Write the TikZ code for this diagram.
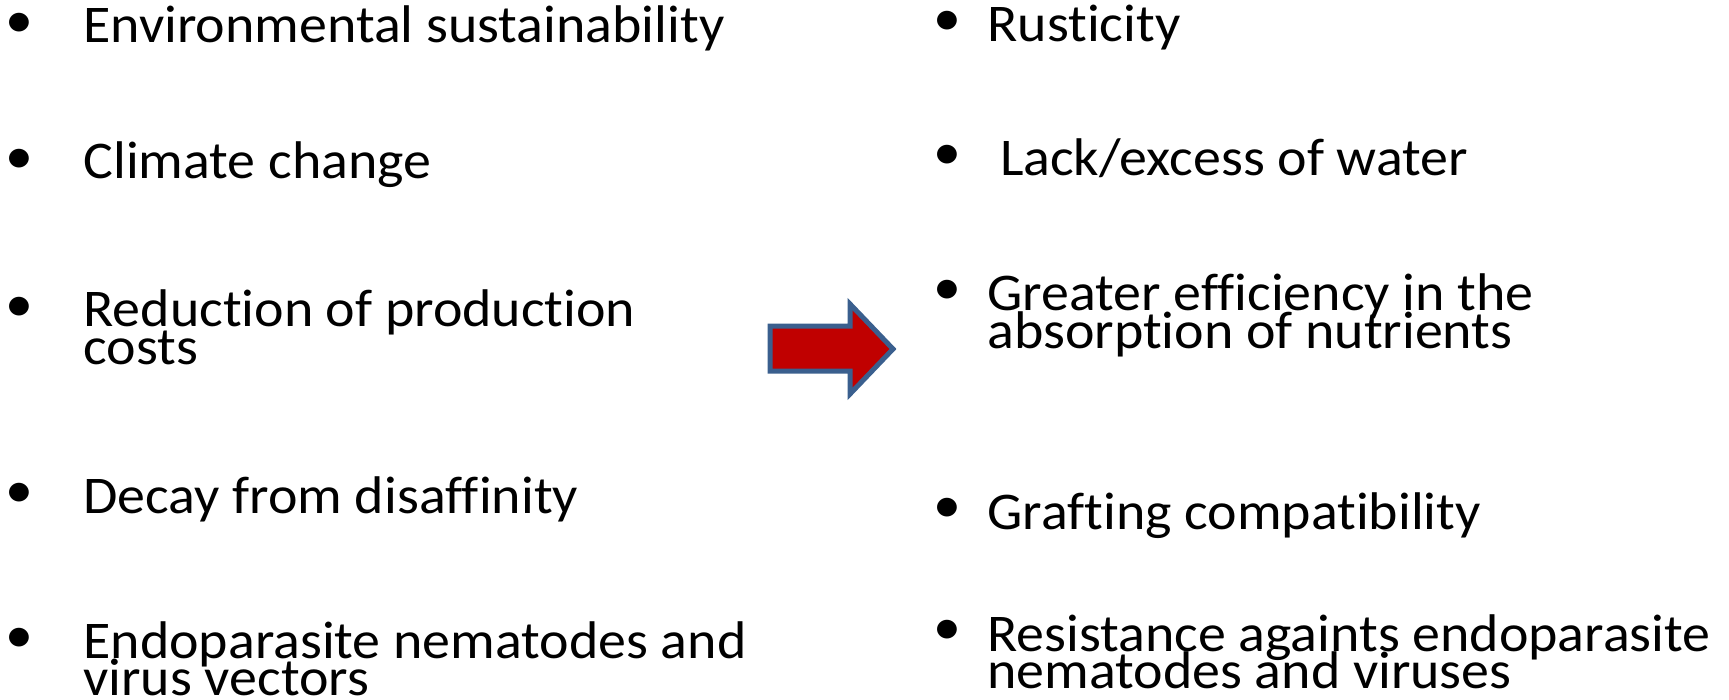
\documentclass[tikz,border=0pt]{standalone}
\usepackage{fontspec}
\setmainfont{Carlito}[FakeStretch=1.055, Ligatures=NoCommon]
\usepackage{xcolor}
\usetikzlibrary{positioning}
\definecolor{arrowred}{HTML}{C00000}
\definecolor{arrowblue}{HTML}{3A5F8E}

\begin{document}
\begin{tikzpicture}[x=0.5pt, y=-0.5pt,
    dot/.style={anchor=center, inner sep=0pt, font=\fontsize{26.5}{26.5}\selectfont},
    itemtext/.style={anchor=base west, inner sep=0pt, font=\fontsize{26.5}{26.5}\selectfont},
    nextline/.style={itemtext, yshift=-18.5pt}]
    \useasboundingbox (0,0) rectangle (1729,700);

    % Left column: reasons
    \node[itemtext] (l1) at (83,43) {Environmental sustainability};
    \node[itemtext] (l2) at (83,179) {Climate change};
    \node[itemtext] (l3) at (83,327) {Reduction of production};
    \node[nextline] (l3b) at (l3.base west) {costs};
    \node[itemtext] (l4) at (83,513) {Decay from disaffinity};
    \node[itemtext] (l5) at (83,658) {Endoparasite nematodes and};
    \node[nextline] (l5b) at (l5.base west) {virus vectors};

    % Right column: what the rootstock brings
    \node[itemtext] (r1) at (987,42) {Rusticity};
    \node[itemtext] (r2) at (987,176) {\ Lack/excess of water};
    \node[itemtext] (r3) at (987,311) {Greater efficiency in the};
    \node[nextline] (r3b) at (r3.base west) {absorption of nutrients};
    \node[itemtext] (r4) at (987,529) {Grafting compatibility};
    \node[itemtext] (r5) at (987,651) {Resistance againts endoparasite};
    \node[nextline] (r5b) at (r5.base west) {nematodes and viruses};

    % Bullets, a little above each first baseline
    \foreach \n/\x/\y in {lb1/19/25, lb2/19/161, lb3/19/309, lb4/19/495, lb5/19/640,
                          rb1/947/23, rb2/947/157, rb3/947/292, rb4/947/510, rb5/947/632} {
        \node[dot] (\n) at (\x,\y) {\textbullet};
    }

    % Block arrow between the columns
    \draw[line width=2.5pt, draw=arrowblue, fill=arrowred, line join=miter]
        (770,326) -- (850,326) -- (850,304) -- (893,349) -- (850,394)
        -- (850,371) -- (770,371) -- cycle;
\end{tikzpicture}
\end{document}
